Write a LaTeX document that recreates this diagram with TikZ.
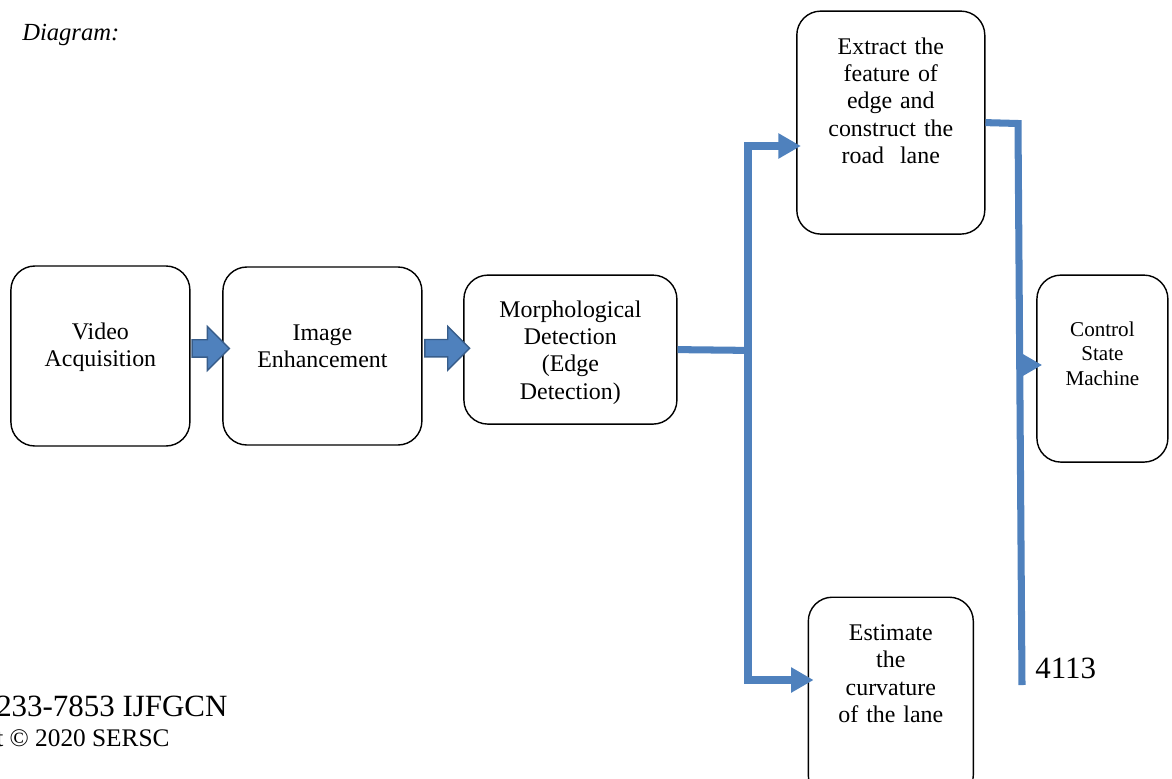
\documentclass[tikz,border=0pt]{standalone}
\usepackage{fontspec}
\setmainfont{Liberation Serif}
\usetikzlibrary{positioning,calc,arrows.meta,shapes.arrows}

\definecolor{officeblue}{HTML}{4F81BD}
\definecolor{officeedge}{HTML}{385D8A}

\tikzset{
  stage/.style n args={3}{draw, rounded corners=0.6cm, line width=1pt, inner sep=0pt,
    align=center, text width=#1, text height=#2, text depth=#3,
    font=\fontsize{17}{19.5}\selectfont},
  fatarrow/.style={single arrow, draw=officeedge, fill=officeblue, line width=1pt,
    inner sep=0.2cm, single arrow head extend=0.33cm, minimum height=#1},
  link/.style={draw=officeblue, line width=5pt},
  flow/.style={link, -{Triangle[length=16pt,width=17pt]}},
  plain/.style={inner sep=0pt, anchor=base west}
}

\begin{document}
\begin{tikzpicture}[node distance=2cm, on grid]
	\useasboundingbox (0,0) rectangle (29.3,-19.45);

	\node[stage={4.475cm}{1.825cm}{2.675cm}] (vid) at (2.51,-8.9) {Video\\Acquisition};
	\node[stage={4.975cm}{1.825cm}{2.625cm}] (img) [right=5.55cm of vid] {Image\\Enhancement};
	\node[stage={5.325cm}{1.05cm}{2.675cm}] (morph) [above right=0.16cm and 6.2cm of img] {Morphological\\Detection\\(Edge\\Detection)};
	\node[stage={4.7cm}{1.075cm}{4.5cm}] (ext) [above right=5.675cm and 8.01cm of morph] {Extract the\\feature of\\edge and\\construct the\\road~~lane};
	\node[stage={4.125cm}{1.075cm}{3.975cm}] (est) [below=14.39cm of ext] {Estimate\\the\\curvature\\of the lane};
	\node[stage={3.275cm}{1.525cm}{3.15cm}, font=\fontsize{15}{17.4}\selectfont] (ctrl) [below right=6.15cm and 5.29cm of ext] {Control\\State\\Machine};

	\node[fatarrow=0.93cm] (arr1) at ([yshift=0.19cm]$(vid.east)!0.5!(img.west)$) {};
	\node[fatarrow=1.12cm] (arr2) at ([yshift=0.115cm]$(img.east)!0.5!(morph.west)$) {};

	\coordinate (split) at (18.7,-8.76);
	\coordinate (ktop) at (18.7,-3.65);
	\coordinate (kbot) at (18.7,-17);
	\coordinate (kr) at (25.45,-3.0875);
	\coordinate (kend) at (25.55,-17.125);
	\coordinate (kc) at (25.45,-9.125);

	\draw[link] (morph.east) -- (split);
	\draw[flow] (split) -- (ktop) -- ([xshift=0.12cm]ktop -| ext.west);
	\draw[flow] (split) -- (kbot) -- ([xshift=0.15cm]kbot -| est.west);
	\draw[link] (ext.east) -- (kr) -- (kend);
	\draw[flow] (kc) -- ([xshift=0.15cm]kc -| ctrl.west);

	\node[plain, font=\fontsize{17.5}{21}\selectfont\itshape] (title) at (0.55,-1.0) {Diagram:};
	\node[plain, font=\fontsize{22}{26}\selectfont] (page) at (25.875,-16.95) {4113};
	\node[plain, font=\fontsize{22}{26}\selectfont] (issn) at (-0.1,-17.9) {233-7853 IJFGCN};
	\node[plain, font=\fontsize{18}{21}\selectfont] (copy) at (-0.1,-18.66) {t \textcopyright{} 2020 SERSC};

\end{tikzpicture}
\end{document}
